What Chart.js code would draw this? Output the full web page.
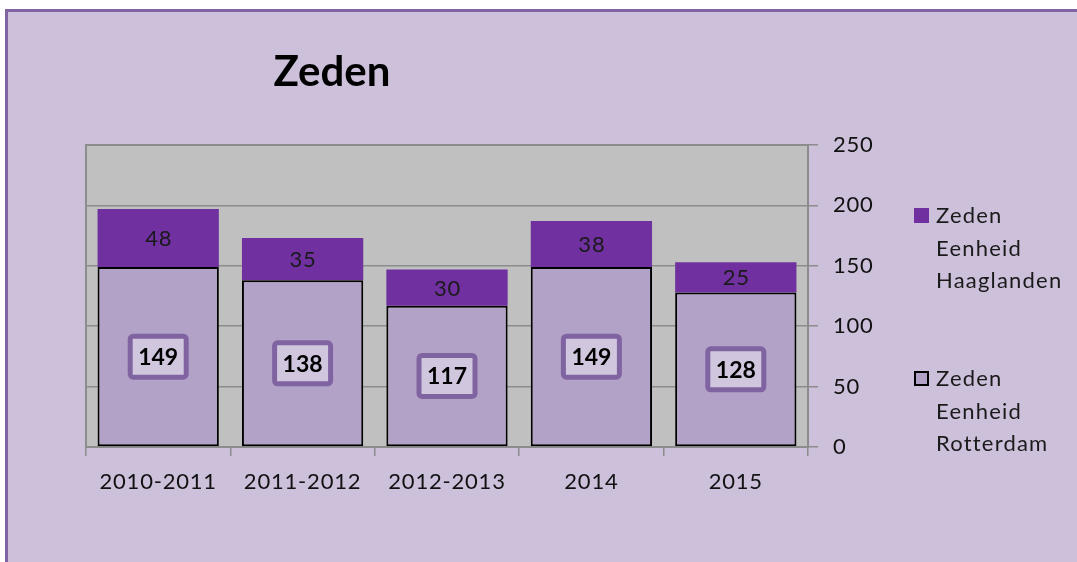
<!DOCTYPE html>
<html>
<head>
<meta charset="utf-8">
<script src="https://cdn.jsdelivr.net/npm/chart.js@4.4.1/dist/chart.umd.min.js"></script>
<style>
  html, body { margin: 0; padding: 0; background: #fff; }
  body { width: 1077px; height: 562px; position: relative; overflow: hidden; }
  .frame {
    position: absolute; left: 5px; top: 9px; width: 1100px; height: 600px;
    background: #ccc0da; border-left: 3px solid #8064a2; border-top: 3px solid #8064a2;
  }
  #wrap { position: absolute; left: 0; top: 0; width: 1077px; height: 562px; }
</style>
</head>
<body>
<div class="frame"></div>
<div id="wrap"><canvas id="chart" width="1077" height="562"></canvas></div>
<script>
// --- DATA ---
const categories = ["2010-2011", "2011-2012", "2012-2013", "2014", "2015"];
const rotterdam = [149, 138, 117, 149, 128];
const haaglanden = [48, 35, 30, 38, 25];
const yTicks = [0, 50, 100, 150, 200, 250];
const chartTitle = "Zeden";
const labelRotterdam = "Zeden Eenheid Rotterdam";
const labelHaaglanden = "Zeden Eenheid Haaglanden";

const FONT = "Lato, 'Open Sans', sans-serif";
const PURPLE = "#7030a0";
const LILAC = "#b3a2c7";

// the original text is wide (ClearType Calibri), so spread letters a bit
const wideText = {
  id: "wideText",
  beforeInit(chart) { chart.ctx.letterSpacing = "0.8px"; },
  beforeDraw(chart) { chart.ctx.letterSpacing = "0.8px"; }
};

// gray plot background + border, drawn before the bars
const plotBackground = {
  id: "plotBackground",
  beforeDraw(chart) {
    const { ctx, chartArea: a } = chart;
    ctx.save();
    ctx.fillStyle = "#c0c0c0";
    ctx.fillRect(a.left, a.top, a.right - a.left, a.bottom - a.top);
    ctx.strokeStyle = "#8c8c8c";
    ctx.lineWidth = 2;
    ctx.strokeRect(a.left, a.top, a.right - a.left, a.bottom - a.top);
    ctx.restore();
  }
};

// value labels inside the bars
const barLabels = {
  id: "barLabels",
  afterDatasetsDraw(chart) {
    const { ctx } = chart;
    ctx.save();
    ctx.textAlign = "center";
    ctx.textBaseline = "middle";
    chart.data.datasets.forEach((ds, di) => {
      chart.getDatasetMeta(di).data.forEach((bar, i) => {
        const cy = (bar.y + bar.base) / 2;
        const text = String(ds.data[i]);
        if (di === 0) {
          ctx.letterSpacing = "0px";
          ctx.font = "bold 23px " + FONT;
          const w = 56, h = 41;
          ctx.beginPath();
          ctx.roundRect(bar.x - w / 2, cy - h / 2, w, h, 3);
          ctx.fillStyle = "#d0c7de";
          ctx.fill();
          ctx.lineWidth = 5;
          ctx.strokeStyle = "#8064a2";
          ctx.stroke();
          ctx.fillStyle = "#000";
          ctx.fillText(text, bar.x, cy + 1);
        } else {
          ctx.letterSpacing = "0.8px";
          ctx.font = "22px " + FONT;
          ctx.fillStyle = "#1a1a1a";
          ctx.fillText(text, bar.x + 0.5, cy + 1);
        }
      });
    });
    ctx.restore();
  }
};

// title and legend placed like the original sheet
const titleAndLegend = {
  id: "titleAndLegend",
  afterDraw(chart) {
    const { ctx } = chart;
    ctx.save();
    ctx.letterSpacing = "0px";
    ctx.fillStyle = "#000";
    ctx.font = "bold 42px " + FONT;
    ctx.textAlign = "center";
    ctx.textBaseline = "middle";
    ctx.fillText(chartTitle, 332, 72);

    ctx.letterSpacing = "1.2px";
    ctx.font = "22px " + FONT;
    ctx.textAlign = "left";
    const entries = [
      { ds: chart.data.datasets[1], top: 216 },
      { ds: chart.data.datasets[0], top: 379 }
    ];
    entries.forEach(({ ds, top }) => {
      if (ds.borderWidth) {
        ctx.fillStyle = ds.backgroundColor;
        ctx.fillRect(915, top - 7, 13, 13);
        ctx.lineWidth = 2;
        ctx.strokeStyle = ds.borderColor;
        ctx.strokeRect(915, top - 7, 13, 13);
      } else {
        ctx.fillStyle = ds.backgroundColor;
        ctx.fillRect(914, top - 8, 15, 15);
      }
      ctx.fillStyle = "#1a1a1a";
      ds.label.split(" ").forEach((word, k) => {
        ctx.fillText(word, 936, top + k * 32.5);
      });
    });
    ctx.restore();
  }
};

new Chart(document.getElementById("chart"), {
  type: "bar",
  data: {
    labels: categories,
    datasets: [
      {
        label: labelRotterdam,
        data: rotterdam,
        backgroundColor: LILAC,
        borderColor: "#000",
        borderWidth: 2,
        borderSkipped: false,
        barPercentage: 0.84,
        categoryPercentage: 1
      },
      {
        label: labelHaaglanden,
        data: haaglanden,
        backgroundColor: PURPLE,
        borderWidth: 0,
        barPercentage: 0.84,
        categoryPercentage: 1
      }
    ]
  },
  options: {
    responsive: false,
    animation: false,
    devicePixelRatio: 1,
    layout: { padding: { left: 86, top: 145, right: 169, bottom: 65 } },
    plugins: {
      legend: { display: false },
      title: { display: false },
      tooltip: { enabled: false }
    },
    scales: {
      x: {
        stacked: true,
        afterFit: (s) => { s.height = 50; },
        grid: { drawOnChartArea: false, drawTicks: true, tickLength: 9, color: "#8c8c8c", lineWidth: 1.5 },
        border: { color: "#8c8c8c", width: 2 },
        ticks: { color: "#111", font: { family: FONT, size: 22 }, padding: 13, maxRotation: 0 }
      },
      y: {
        stacked: true,
        position: "right",
        min: 0,
        max: 250,
        afterFit: (s) => { s.width = 100; },
        afterBuildTicks: (s) => { s.ticks = yTicks.map(v => ({ value: v })); },
        grid: { color: "#8c8c8c", lineWidth: 1.5, drawTicks: true, tickLength: 10 },
        border: { color: "#8c8c8c", width: 2 },
        ticks: { color: "#111", font: { family: FONT, size: 22 }, padding: 15 }
      }
    }
  },
  plugins: [wideText, plotBackground, barLabels, titleAndLegend]
});
</script>
</body>
</html>
